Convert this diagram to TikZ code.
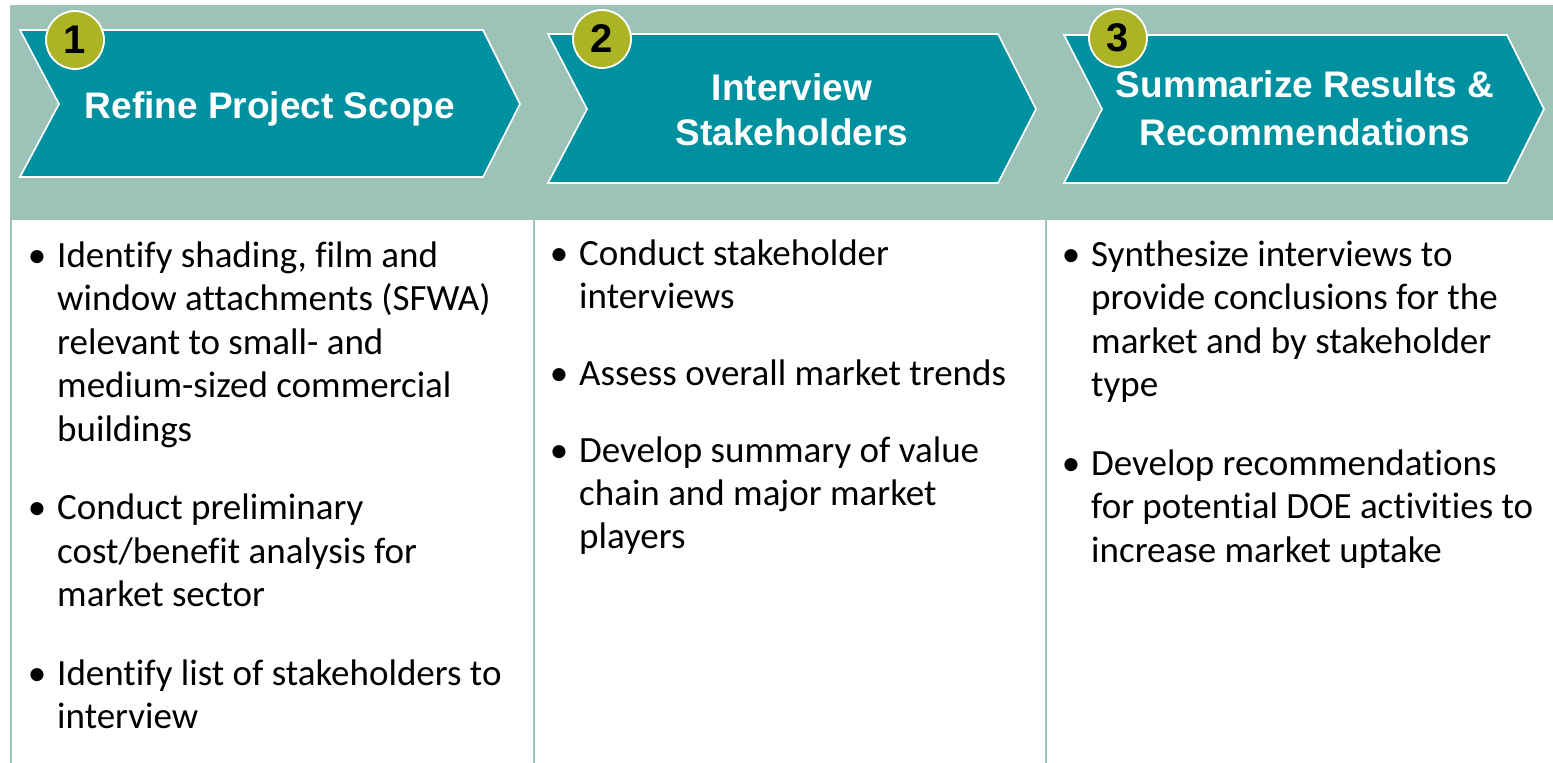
\documentclass[tikz,border=0pt]{standalone}
\usepackage{fontspec}
\setmainfont{Carlito}[Ligatures=NoCommon]
\newfontfamily\headfont{Liberation Sans}

\definecolor{bandgreen}{HTML}{9DC3B9}
\definecolor{chevteal}{HTML}{0091A1}
\definecolor{badgeolive}{HTML}{ABB425}
\definecolor{rulegreen}{HTML}{9DC3B9}

% bullet hung in the left margin of each item
\newcommand{\itembullet}{\leavevmode\llap{\textbullet\hspace{11pt}}}
\newcommand{\itemgap}{\par\vspace{35pt}}

\tikzset{
  chevron/.style={fill=chevteal, draw=white, line width=1.6pt, line join=miter},
  badge/.style={circle, fill=badgeolive, draw=white, line width=1.8pt,
    minimum size=58pt, inner sep=0pt,
    font=\headfont\bfseries\fontsize{40}{40}\selectfont, text=black},
  headtext/.style={anchor=base, inner sep=0pt, text=white},
  bodytext/.style={anchor=base west, inner sep=0pt, text=black,
    font=\fontsize{37}{43.5}\selectfont},
  colrule/.style={draw=rulegreen, line width=2.5pt}
}

\begin{document}
\begin{tikzpicture}[x=1pt,y=-1pt]
\useasboundingbox (0,0) rectangle (1553,763);
\fill[white] (0,0) rectangle (1553,763);

% header band
\fill[bandgreen] (10,5) rectangle (1553,220);

% column rules
\coordinate (r1t) at (11,220);   \coordinate (r1b) at (11,763);
\coordinate (r2t) at (534,220);  \coordinate (r2b) at (534,763);
\coordinate (r3t) at (1046,220); \coordinate (r3b) at (1046,763);
\draw[colrule] (r1t) -- (r1b);
\draw[colrule] (r2t) -- (r2b);
\draw[colrule] (r3t) -- (r3b);

% step chevrons
\path[chevron] (20,30) -- (483,30) -- (520,104) -- (483,177) -- (20,177) -- (59,104) -- cycle;
\path[chevron] (548,34) -- (998,34) -- (1036,109) -- (998,183) -- (548,183) -- (587,109) -- cycle;
\path[chevron] (1064,35) -- (1507,35) -- (1544,109) -- (1507,183) -- (1064,183) -- (1102,109) -- cycle;

% step titles
\node[headtext] (t1) at (270,118)
  {\parbox[t]{460pt}{\centering\headfont\bfseries\fontsize{37}{45}\selectfont Refine Project Scope}};
\node[headtext] (t2) at (792,100)
  {\parbox[t]{440pt}{\centering\headfont\bfseries\fontsize{37}{45}\selectfont Interview\\Stakeholders}};
\node[headtext] (t3) at (1305,97)
  {\parbox[t]{440pt}{\centering\headfont\bfseries\fontsize{37}{48}\selectfont Summarize Results \&\\Recommendations}};

% step numbers
\node[badge] (b1) at (75,40) {\raisebox{-2pt}{1}};
\node[badge] (b2) at (602,39) {\raisebox{-2pt}{2}};
\node[badge] (b3) at (1118,38) {\raisebox{-2pt}{3}};

% column contents
\node[bodytext] (c1) at (57,267) {\parbox[t]{480pt}{\raggedright
  \itembullet Identify shading, film and\\
  window attachments (SFWA)\\
  relevant to small- and\\
  medium-sized commercial\\
  buildings\itemgap
  \itembullet Conduct preliminary\\
  cost/benefit analysis for\\
  market sector\itemgap
  \itembullet Identify list of stakeholders to\\
  interview}};

\node[bodytext] (c2) at (579,265) {\parbox[t]{470pt}{\raggedright\baselineskip=43pt
  \itembullet Conduct stakeholder\\
  interviews\par\vspace{34pt}
  \itembullet Assess overall market trends\par\vspace{34pt}
  \itembullet Develop summary of value\\
  chain and major market\\
  players}};

\node[bodytext] (c3) at (1091,266) {\parbox[t]{470pt}{\raggedright
  \itembullet Synthesize interviews to\\
  provide conclusions for the\\
  market and by stakeholder\\
  type\itemgap
  \itembullet Develop recommendations\\
  for potential DOE activities to\\
  increase market uptake}};
\end{tikzpicture}
\end{document}
